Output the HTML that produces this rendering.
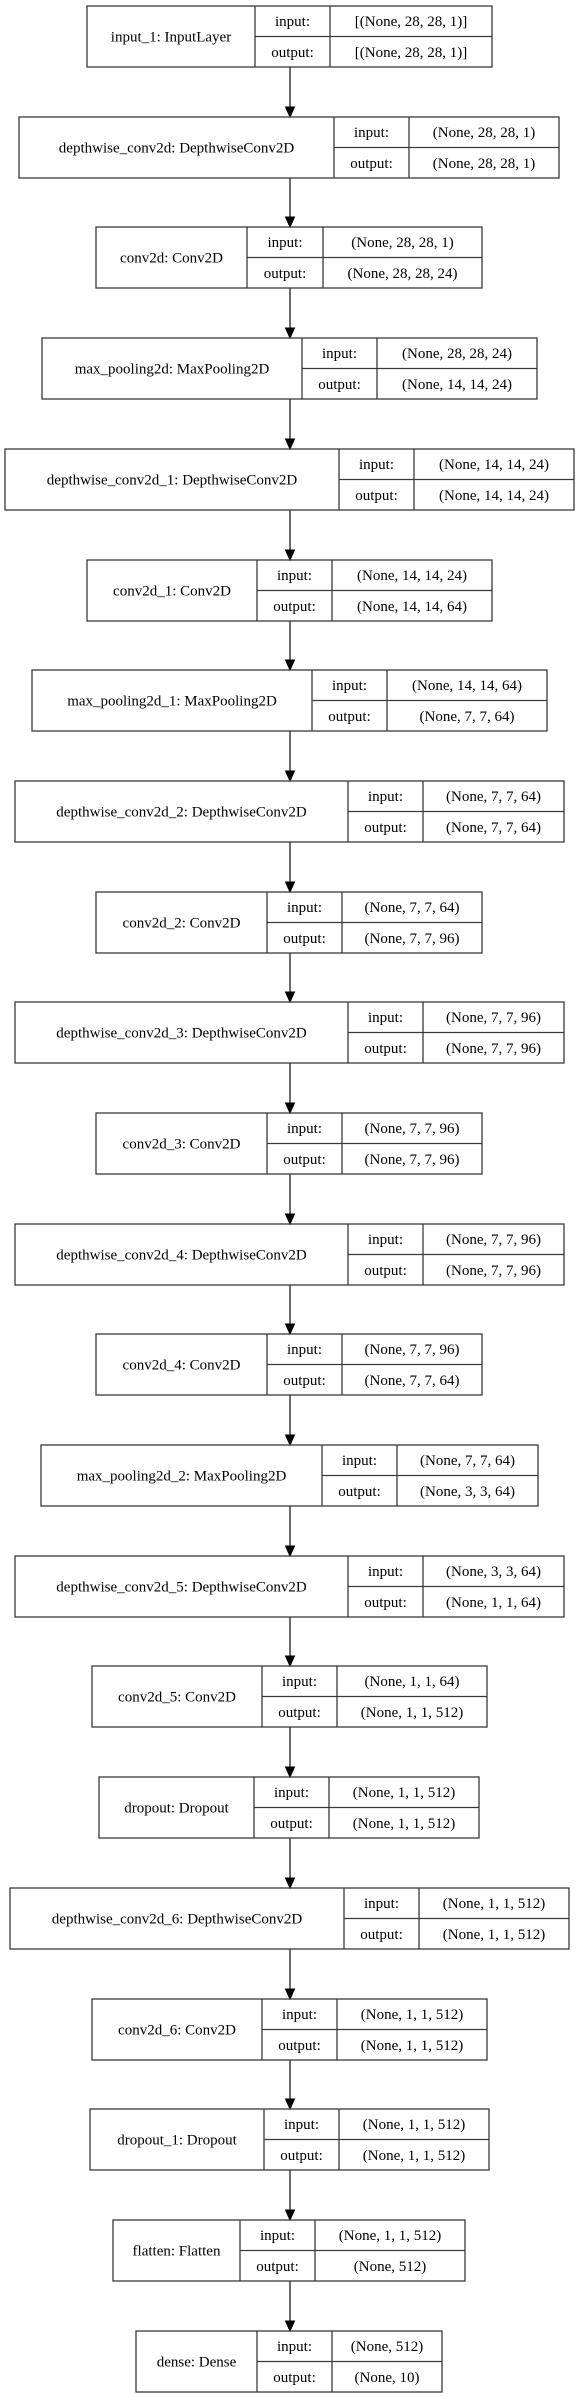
<!DOCTYPE html>
<html><head><meta charset="utf-8"><style>
html,body{margin:0;padding:0;background:#fff;}
svg{display:block;}
text{font-family:"Liberation Serif",serif;font-size:15px;fill:#000;text-anchor:middle;}
rect,line{stroke:#3a3a3a;stroke-width:1.3;fill:none;}
polygon{fill:#000;stroke:#000;stroke-width:1;}
.ar{stroke:#3a3a3a;stroke-width:1.5;}
</style></head><body>
<svg width="576" height="2397" viewBox="0 0 576 2397" xmlns="http://www.w3.org/2000/svg">
<rect x="0" y="0" width="576" height="2397" style="fill:#fff;stroke:none"/>

<!-- connectors -->
<g>
<line class="ar" x1="290" y1="67" x2="290" y2="107"/><polygon points="285.5,107 294.5,107 290,117"/>
<line class="ar" x1="290" y1="178" x2="290" y2="217"/><polygon points="285.5,217 294.5,217 290,227"/>
<line class="ar" x1="290" y1="288" x2="290" y2="328"/><polygon points="285.5,328 294.5,328 290,338"/>
<line class="ar" x1="290" y1="399" x2="290" y2="439"/><polygon points="285.5,439 294.5,439 290,449"/>
<line class="ar" x1="290" y1="510" x2="290" y2="550"/><polygon points="285.5,550 294.5,550 290,560"/>
<line class="ar" x1="290" y1="621" x2="290" y2="660"/><polygon points="285.5,660 294.5,660 290,670"/>
<line class="ar" x1="290" y1="731" x2="290" y2="771"/><polygon points="285.5,771 294.5,771 290,781"/>
<line class="ar" x1="290" y1="842" x2="290" y2="882"/><polygon points="285.5,882 294.5,882 290,892"/>
<line class="ar" x1="290" y1="953" x2="290" y2="992"/><polygon points="285.5,992 294.5,992 290,1002"/>
<line class="ar" x1="290" y1="1063" x2="290" y2="1103"/><polygon points="285.5,1103 294.5,1103 290,1113"/>
<line class="ar" x1="290" y1="1174" x2="290" y2="1214"/><polygon points="285.5,1214 294.5,1214 290,1224"/>
<line class="ar" x1="290" y1="1285" x2="290" y2="1324"/><polygon points="285.5,1324 294.5,1324 290,1334"/>
<line class="ar" x1="290" y1="1395" x2="290" y2="1435"/><polygon points="285.5,1435 294.5,1435 290,1445"/>
<line class="ar" x1="290" y1="1506" x2="290" y2="1546"/><polygon points="285.5,1546 294.5,1546 290,1556"/>
<line class="ar" x1="290" y1="1617" x2="290" y2="1656"/><polygon points="285.5,1656 294.5,1656 290,1666"/>
<line class="ar" x1="290" y1="1727" x2="290" y2="1767"/><polygon points="285.5,1767 294.5,1767 290,1777"/>
<line class="ar" x1="290" y1="1838" x2="290" y2="1878"/><polygon points="285.5,1878 294.5,1878 290,1888"/>
<line class="ar" x1="290" y1="1949" x2="290" y2="1989"/><polygon points="285.5,1989 294.5,1989 290,1999"/>
<line class="ar" x1="290" y1="2060" x2="290" y2="2099"/><polygon points="285.5,2099 294.5,2099 290,2109"/>
<line class="ar" x1="290" y1="2170" x2="290" y2="2210"/><polygon points="285.5,2210 294.5,2210 290,2220"/>
<line class="ar" x1="290" y1="2281" x2="290" y2="2321"/><polygon points="285.5,2321 294.5,2321 290,2331"/>
</g>

<!-- 0 input_1 -->
<g transform="translate(0,6)">
<rect x="87" y="0" width="405" height="61"/><line x1="255" y1="0" x2="255" y2="61"/><line x1="330" y1="0" x2="330" y2="61"/><line x1="255" y1="30.5" x2="492" y2="30.5"/>
<text x="171" y="35.5">input_1: InputLayer</text><text x="292.5" y="20">input:</text><text x="292.5" y="51">output:</text>
<text x="411" y="20">[(None, 28, 28, 1)]</text><text x="411" y="51">[(None, 28, 28, 1)]</text></g>

<!-- 1 depthwise_conv2d -->
<g transform="translate(0,117)">
<rect x="19" y="0" width="540" height="61"/><line x1="334" y1="0" x2="334" y2="61"/><line x1="409" y1="0" x2="409" y2="61"/><line x1="334" y1="30.5" x2="559" y2="30.5"/>
<text x="176.5" y="35.5">depthwise_conv2d: DepthwiseConv2D</text><text x="371.5" y="20">input:</text><text x="371.5" y="51">output:</text>
<text x="484" y="20">(None, 28, 28, 1)</text><text x="484" y="51">(None, 28, 28, 1)</text></g>

<!-- 2 conv2d -->
<g transform="translate(0,227)">
<rect x="96" y="0" width="386" height="61"/><line x1="247" y1="0" x2="247" y2="61"/><line x1="323" y1="0" x2="323" y2="61"/><line x1="247" y1="30.5" x2="482" y2="30.5"/>
<text x="171.5" y="35.5">conv2d: Conv2D</text><text x="285" y="20">input:</text><text x="285" y="51">output:</text>
<text x="402.5" y="20">(None, 28, 28, 1)</text><text x="402.5" y="51">(None, 28, 28, 24)</text></g>

<!-- 3 max_pooling2d -->
<g transform="translate(0,338)">
<rect x="42" y="0" width="495" height="61"/><line x1="302" y1="0" x2="302" y2="61"/><line x1="377" y1="0" x2="377" y2="61"/><line x1="302" y1="30.5" x2="537" y2="30.5"/>
<text x="172" y="35.5">max_pooling2d: MaxPooling2D</text><text x="339.5" y="20">input:</text><text x="339.5" y="51">output:</text>
<text x="457" y="20">(None, 28, 28, 24)</text><text x="457" y="51">(None, 14, 14, 24)</text></g>

<!-- 4 depthwise_conv2d_1 -->
<g transform="translate(0,449)">
<rect x="5" y="0" width="569" height="61"/><line x1="339" y1="0" x2="339" y2="61"/><line x1="414" y1="0" x2="414" y2="61"/><line x1="339" y1="30.5" x2="574" y2="30.5"/>
<text x="172" y="35.5">depthwise_conv2d_1: DepthwiseConv2D</text><text x="376.5" y="20">input:</text><text x="376.5" y="51">output:</text>
<text x="494" y="20">(None, 14, 14, 24)</text><text x="494" y="51">(None, 14, 14, 24)</text></g>

<!-- 5 conv2d_1 -->
<g transform="translate(0,560)">
<rect x="87" y="0" width="405" height="61"/><line x1="257" y1="0" x2="257" y2="61"/><line x1="332" y1="0" x2="332" y2="61"/><line x1="257" y1="30.5" x2="492" y2="30.5"/>
<text x="172" y="35.5">conv2d_1: Conv2D</text><text x="294.5" y="20">input:</text><text x="294.5" y="51">output:</text>
<text x="412" y="20">(None, 14, 14, 24)</text><text x="412" y="51">(None, 14, 14, 64)</text></g>

<!-- 6 max_pooling2d_1 -->
<g transform="translate(0,670)">
<rect x="32" y="0" width="515" height="61"/><line x1="312" y1="0" x2="312" y2="61"/><line x1="387" y1="0" x2="387" y2="61"/><line x1="312" y1="30.5" x2="547" y2="30.5"/>
<text x="172" y="35.5">max_pooling2d_1: MaxPooling2D</text><text x="349.5" y="20">input:</text><text x="349.5" y="51">output:</text>
<text x="467" y="20">(None, 14, 14, 64)</text><text x="467" y="51">(None, 7, 7, 64)</text></g>

<!-- 7 depthwise_conv2d_2 -->
<g transform="translate(0,781)">
<rect x="15" y="0" width="549" height="61"/><line x1="348" y1="0" x2="348" y2="61"/><line x1="423" y1="0" x2="423" y2="61"/><line x1="348" y1="30.5" x2="564" y2="30.5"/>
<text x="181.5" y="35.5">depthwise_conv2d_2: DepthwiseConv2D</text><text x="385.5" y="20">input:</text><text x="385.5" y="51">output:</text>
<text x="493.5" y="20">(None, 7, 7, 64)</text><text x="493.5" y="51">(None, 7, 7, 64)</text></g>

<!-- 8 conv2d_2 -->
<g transform="translate(0,892)">
<rect x="96" y="0" width="386" height="61"/><line x1="267" y1="0" x2="267" y2="61"/><line x1="342" y1="0" x2="342" y2="61"/><line x1="267" y1="30.5" x2="482" y2="30.5"/>
<text x="181.5" y="35.5">conv2d_2: Conv2D</text><text x="304.5" y="20">input:</text><text x="304.5" y="51">output:</text>
<text x="412" y="20">(None, 7, 7, 64)</text><text x="412" y="51">(None, 7, 7, 96)</text></g>

<!-- 9 depthwise_conv2d_3 -->
<g transform="translate(0,1002)">
<rect x="15" y="0" width="549" height="61"/><line x1="348" y1="0" x2="348" y2="61"/><line x1="423" y1="0" x2="423" y2="61"/><line x1="348" y1="30.5" x2="564" y2="30.5"/>
<text x="181.5" y="35.5">depthwise_conv2d_3: DepthwiseConv2D</text><text x="385.5" y="20">input:</text><text x="385.5" y="51">output:</text>
<text x="493.5" y="20">(None, 7, 7, 96)</text><text x="493.5" y="51">(None, 7, 7, 96)</text></g>

<!-- 10 conv2d_3 -->
<g transform="translate(0,1113)">
<rect x="96" y="0" width="386" height="61"/><line x1="267" y1="0" x2="267" y2="61"/><line x1="342" y1="0" x2="342" y2="61"/><line x1="267" y1="30.5" x2="482" y2="30.5"/>
<text x="181.5" y="35.5">conv2d_3: Conv2D</text><text x="304.5" y="20">input:</text><text x="304.5" y="51">output:</text>
<text x="412" y="20">(None, 7, 7, 96)</text><text x="412" y="51">(None, 7, 7, 96)</text></g>

<!-- 11 depthwise_conv2d_4 -->
<g transform="translate(0,1224)">
<rect x="15" y="0" width="549" height="61"/><line x1="348" y1="0" x2="348" y2="61"/><line x1="423" y1="0" x2="423" y2="61"/><line x1="348" y1="30.5" x2="564" y2="30.5"/>
<text x="181.5" y="35.5">depthwise_conv2d_4: DepthwiseConv2D</text><text x="385.5" y="20">input:</text><text x="385.5" y="51">output:</text>
<text x="493.5" y="20">(None, 7, 7, 96)</text><text x="493.5" y="51">(None, 7, 7, 96)</text></g>

<!-- 12 conv2d_4 -->
<g transform="translate(0,1334)">
<rect x="96" y="0" width="386" height="61"/><line x1="267" y1="0" x2="267" y2="61"/><line x1="342" y1="0" x2="342" y2="61"/><line x1="267" y1="30.5" x2="482" y2="30.5"/>
<text x="181.5" y="35.5">conv2d_4: Conv2D</text><text x="304.5" y="20">input:</text><text x="304.5" y="51">output:</text>
<text x="412" y="20">(None, 7, 7, 96)</text><text x="412" y="51">(None, 7, 7, 64)</text></g>

<!-- 13 max_pooling2d_2 -->
<g transform="translate(0,1445)">
<rect x="41" y="0" width="497" height="61"/><line x1="322" y1="0" x2="322" y2="61"/><line x1="397" y1="0" x2="397" y2="61"/><line x1="322" y1="30.5" x2="538" y2="30.5"/>
<text x="181.5" y="35.5">max_pooling2d_2: MaxPooling2D</text><text x="359.5" y="20">input:</text><text x="359.5" y="51">output:</text>
<text x="467.5" y="20">(None, 7, 7, 64)</text><text x="467.5" y="51">(None, 3, 3, 64)</text></g>

<!-- 14 depthwise_conv2d_5 -->
<g transform="translate(0,1556)">
<rect x="15" y="0" width="549" height="61"/><line x1="348" y1="0" x2="348" y2="61"/><line x1="423" y1="0" x2="423" y2="61"/><line x1="348" y1="30.5" x2="564" y2="30.5"/>
<text x="181.5" y="35.5">depthwise_conv2d_5: DepthwiseConv2D</text><text x="385.5" y="20">input:</text><text x="385.5" y="51">output:</text>
<text x="493.5" y="20">(None, 3, 3, 64)</text><text x="493.5" y="51">(None, 1, 1, 64)</text></g>

<!-- 15 conv2d_5 -->
<g transform="translate(0,1666)">
<rect x="92" y="0" width="395" height="61"/><line x1="262" y1="0" x2="262" y2="61"/><line x1="337" y1="0" x2="337" y2="61"/><line x1="262" y1="30.5" x2="487" y2="30.5"/>
<text x="177" y="35.5">conv2d_5: Conv2D</text><text x="299.5" y="20">input:</text><text x="299.5" y="51">output:</text>
<text x="412" y="20">(None, 1, 1, 64)</text><text x="412" y="51">(None, 1, 1, 512)</text></g>

<!-- 16 dropout -->
<g transform="translate(0,1777)">
<rect x="99" y="0" width="380" height="61"/><line x1="254" y1="0" x2="254" y2="61"/><line x1="329" y1="0" x2="329" y2="61"/><line x1="254" y1="30.5" x2="479" y2="30.5"/>
<text x="176.5" y="35.5">dropout: Dropout</text><text x="291.5" y="20">input:</text><text x="291.5" y="51">output:</text>
<text x="404" y="20">(None, 1, 1, 512)</text><text x="404" y="51">(None, 1, 1, 512)</text></g>

<!-- 17 depthwise_conv2d_6 -->
<g transform="translate(0,1888)">
<rect x="10" y="0" width="559" height="61"/><line x1="344" y1="0" x2="344" y2="61"/><line x1="419" y1="0" x2="419" y2="61"/><line x1="344" y1="30.5" x2="569" y2="30.5"/>
<text x="177" y="35.5">depthwise_conv2d_6: DepthwiseConv2D</text><text x="381.5" y="20">input:</text><text x="381.5" y="51">output:</text>
<text x="494" y="20">(None, 1, 1, 512)</text><text x="494" y="51">(None, 1, 1, 512)</text></g>

<!-- 18 conv2d_6 -->
<g transform="translate(0,1999)">
<rect x="92" y="0" width="395" height="61"/><line x1="262" y1="0" x2="262" y2="61"/><line x1="337" y1="0" x2="337" y2="61"/><line x1="262" y1="30.5" x2="487" y2="30.5"/>
<text x="177" y="35.5">conv2d_6: Conv2D</text><text x="299.5" y="20">input:</text><text x="299.5" y="51">output:</text>
<text x="412" y="20">(None, 1, 1, 512)</text><text x="412" y="51">(None, 1, 1, 512)</text></g>

<!-- 19 dropout_1 -->
<g transform="translate(0,2109)">
<rect x="90" y="0" width="399" height="61"/><line x1="264" y1="0" x2="264" y2="61"/><line x1="339" y1="0" x2="339" y2="61"/><line x1="264" y1="30.5" x2="489" y2="30.5"/>
<text x="177" y="35.5">dropout_1: Dropout</text><text x="301.5" y="20">input:</text><text x="301.5" y="51">output:</text>
<text x="414" y="20">(None, 1, 1, 512)</text><text x="414" y="51">(None, 1, 1, 512)</text></g>

<!-- 20 flatten -->
<g transform="translate(0,2220)">
<rect x="113" y="0" width="352" height="61"/><line x1="240" y1="0" x2="240" y2="61"/><line x1="315" y1="0" x2="315" y2="61"/><line x1="240" y1="30.5" x2="465" y2="30.5"/>
<text x="176.5" y="35.5">flatten: Flatten</text><text x="277.5" y="20">input:</text><text x="277.5" y="51">output:</text>
<text x="390" y="20">(None, 1, 1, 512)</text><text x="390" y="51">(None, 512)</text></g>

<!-- 21 dense -->
<g transform="translate(0,2331)">
<rect x="136" y="0" width="306" height="61"/><line x1="257" y1="0" x2="257" y2="61"/><line x1="332" y1="0" x2="332" y2="61"/><line x1="257" y1="30.5" x2="442" y2="30.5"/>
<text x="196.5" y="35.5">dense: Dense</text><text x="294.5" y="20">input:</text><text x="294.5" y="51">output:</text>
<text x="387" y="20">(None, 512)</text><text x="387" y="51">(None, 10)</text></g>
</svg>
</body></html>
